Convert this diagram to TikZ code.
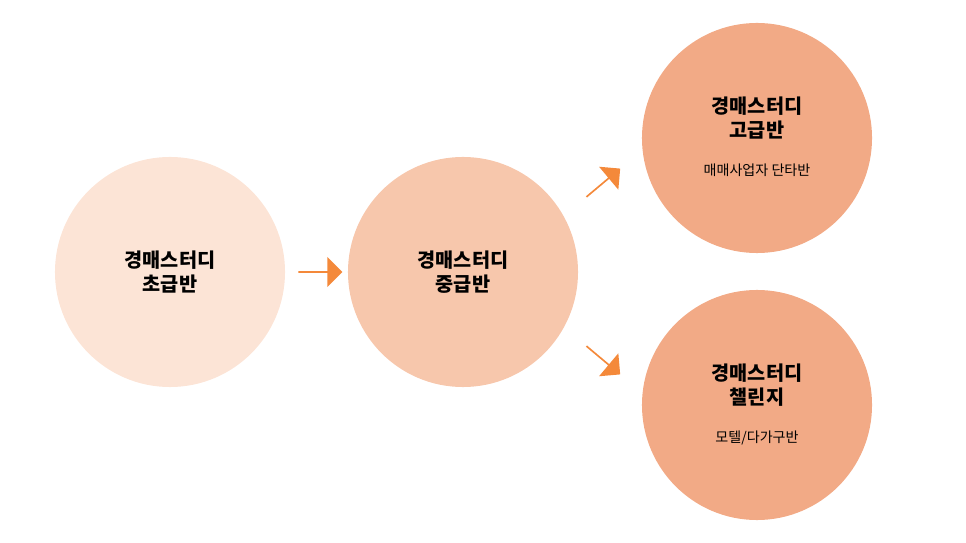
\documentclass[tikz,border=0pt]{standalone}
\usepackage{fontspec}
\setmainfont{Noto Sans CJK KR}
\usetikzlibrary{shapes.arrows}
\definecolor{lightpeach}{HTML}{FCE4D6}
\definecolor{midpeach}{HTML}{F7C7AC}
\definecolor{deeppeach}{HTML}{F2AA86}
\definecolor{arroworange}{HTML}{F4893A}
\tikzset{
    stage/.style={circle, minimum size=5.75cm, inner sep=0pt, align=center, font=\fontsize{14}{17}\selectfont\bfseries},
    flow/.style={single arrow, fill=arroworange, minimum height=1.1cm, minimum width=0.75cm, single arrow head extend=0.12cm, inner sep=0pt},
    sub/.style={font=\fontsize{10}{12}\selectfont}
}
\begin{document}
\begin{tikzpicture}[x=0.025cm, y=-0.025cm]
    \useasboundingbox (0,0) rectangle (966,543);
    %beginner
    \node[stage, fill=lightpeach] at (170,272) (basic) {경매스터디\\초급반};
    %intermediate
    \node[stage, fill=midpeach] at (463,272) (middle) {경매스터디\\중급반};
    %advanced
    \node[stage, fill=deeppeach] at (757,138) (high) {};
    \node[align=center, font=\fontsize{14}{17}\selectfont\bfseries] at (757,118) (hightitle) {경매스터디\\고급반};
    \node[sub] at (757,170) (highsub) {매매사업자 단타반};
    %challenge
    \node[stage, fill=deeppeach] at (757,405) (chal) {};
    \node[align=center, font=\fontsize{14}{17}\selectfont\bfseries] at (757,385) (chaltitle) {경매스터디\\챌린지};
    \node[sub] at (757,438) (chalsub) {모텔/다가구반};
    %arrows
    \node[flow] at (320,272) (arrowa) {};
    \node[flow, rotate=40] at (603,183) (arrowb) {};
    \node[flow, rotate=-40] at (603,360) (arrowc) {};
\end{tikzpicture}
\end{document}
